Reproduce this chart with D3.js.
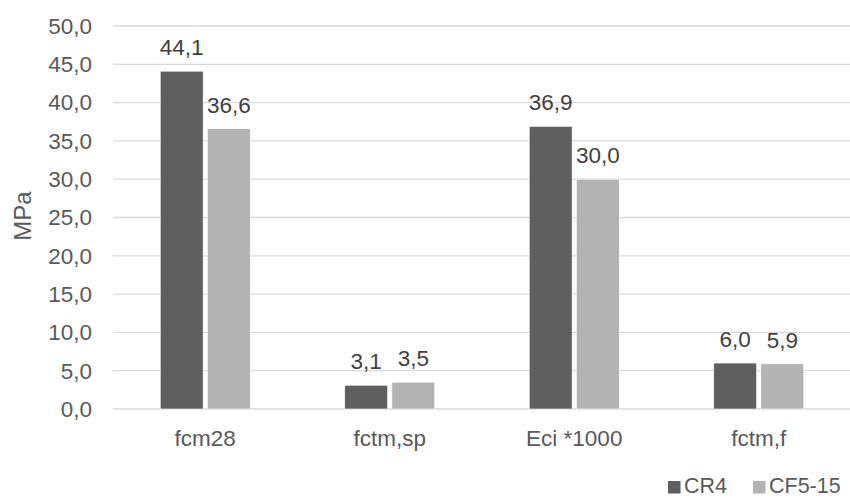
<!DOCTYPE html>
<html>
<head>
<meta charset="utf-8">
<script src="https://cdn.jsdelivr.net/npm/d3@7"></script>
<style>
  html, body { margin: 0; padding: 0; background: #fff; }
  svg { display: block; font-family: "Liberation Sans", Arial, sans-serif; }
</style>
</head>
<body>
<svg id="chart" width="850" height="498"></svg>
<script>
const categories = ["fcm28", "fctm,sp", "Eci *1000", "fctm,f"];
const seriesNames = ["CR4", "CF5-15"];
const cr4 = [44.1, 3.1, 36.9, 6.0];
const cf515 = [36.6, 3.5, 30.0, 5.9];
const yTicks = [0, 5, 10, 15, 20, 25, 30, 35, 40, 45, 50];
const colors = ["#5f5f5f", "#b3b3b3"];

const fmt = v => v.toFixed(1).replace(".", ",");
const seriesValues = [cr4, cf515];
const FS = 22.5;

const svg = d3.select("#chart");
const y = d3.scaleLinear().domain([0, 50]).range([409, 26]);
const x0 = d3.scaleBand().domain(categories).range([113, 851]).padding(0);
const x1 = d3.scaleBand().domain(seriesNames).range([-45, 45]).paddingInner(0.09);

// gridlines
svg.append("g").selectAll("line").data(yTicks).join("line")
  .attr("x1", 113).attr("x2", 851)
  .attr("y1", d => y(d)).attr("y2", d => y(d))
  .attr("stroke", "#d9d9d9").attr("stroke-width", 1.3);

// y tick labels
svg.append("g").selectAll("text").data(yTicks).join("text")
  .attr("x", 92).attr("y", d => y(d)).attr("dy", "0.35em")
  .attr("text-anchor", "end").attr("font-size", FS).attr("fill", "#595959")
  .text(d => fmt(d));

// bars
const groups = svg.append("g").selectAll("g").data(categories).join("g")
  .attr("transform", c => `translate(${x0(c) + x0.bandwidth() / 2},0)`);

groups.each(function(c, ci) {
  const g = d3.select(this);
  seriesNames.forEach((s, si) => {
    const v = seriesValues[si][ci];
    g.append("rect")
      .attr("x", x1(s)).attr("width", x1.bandwidth())
      .attr("y", y(v)).attr("height", y(0) - y(v))
      .attr("fill", colors[si]).attr("stroke", "#ffffff").attr("stroke-width", 0.6);
    g.append("text")
      .attr("x", x1(s) + x1.bandwidth() / 2).attr("y", y(v) - 16)
      .attr("text-anchor", "middle").attr("font-size", FS).attr("fill", "#404040")
      .text(fmt(v));
  });
});

// category labels
svg.append("g").selectAll("text").data(categories).join("text")
  .attr("x", c => x0(c) + x0.bandwidth() / 2).attr("y", 438).attr("dy", "0.35em")
  .attr("text-anchor", "middle").attr("font-size", FS).attr("fill", "#595959")
  .text(c => c);

// y axis title
svg.append("text")
  .attr("transform", "translate(23,216) rotate(-90)")
  .attr("dy", "0.35em")
  .attr("text-anchor", "middle").attr("font-size", 24).attr("fill", "#595959")
  .text("MPa");

// legend
const legendItems = [{ name: seriesNames[0], x: 668 }, { name: seriesNames[1], x: 753 }];
const lg = svg.append("g").selectAll("g").data(legendItems).join("g")
  .attr("transform", d => `translate(${d.x},0)`);
lg.append("rect").attr("x", 0).attr("y", 481).attr("width", 12.5).attr("height", 12.5)
  .attr("fill", (d, i) => colors[i]);
lg.append("text").attr("x", 16).attr("y", 493)
  .attr("font-size", 21.5).attr("fill", "#595959").text(d => d.name);
</script>
</body>
</html>
